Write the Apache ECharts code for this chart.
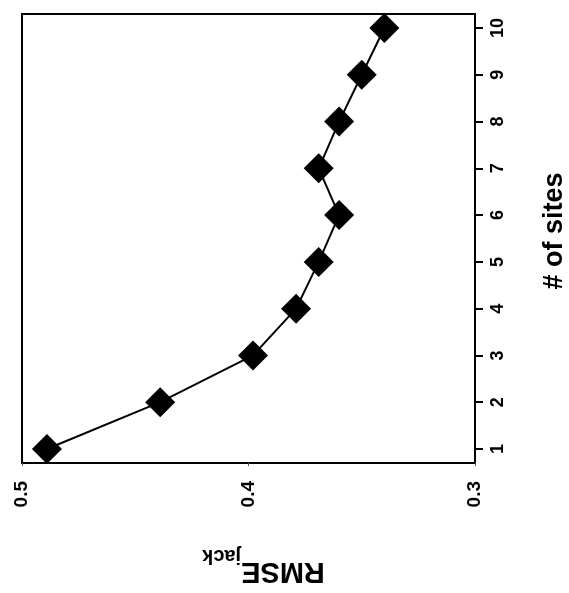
<!DOCTYPE html>
<html>
<head>
<meta charset="utf-8">
<script src="https://cdn.jsdelivr.net/npm/echarts@6/dist/echarts.min.js"></script>
<style>
  html, body { margin: 0; padding: 0; background: #fff; }
  #main { width: 569px; height: 593px; }
</style>
</head>
<body>
<div id="main"></div>
<script>
// # of sites vs. RMSE_jack (plot drawn rotated: sites on the right, RMSE at the bottom)
var sites = [1, 2, 3, 4, 5, 6, 7, 8, 9, 10];
var rmseJack = [0.489, 0.439, 0.398, 0.379, 0.369, 0.360, 0.369, 0.360, 0.350, 0.340];
var rmseTicks = [0.3, 0.4, 0.5];

var myChart = echarts.init(document.getElementById('main'));
var font = 'Liberation Sans, Arial, sans-serif';

var option = {
  animation: false,
  grid: {
    left: 22,
    right: 94,
    top: 14,
    bottom: 130,
    outerBoundsMode: 'none',
    show: true,
    borderColor: '#000',
    borderWidth: 2,
    backgroundColor: '#fff'
  },
  xAxis: {
    type: 'value',
    inverse: true,
    min: 0.3,
    max: 0.5,
    interval: 0.1,
    position: 'bottom',
    name: '{a|RMSE}{b|jack}',
    nameLocation: 'middle',
    nameRotate: 180,
    nameGap: 83,
    nameTextStyle: {
      padding: [0, 30, 0, 0],
      rich: {
        a: { fontFamily: font, fontSize: 29, fontWeight: 'bold', color: '#000', lineHeight: 34 },
        b: { fontFamily: font, fontSize: 20, fontWeight: 'bold', color: '#000', verticalAlign: 'bottom', padding: [30, 0, 0, 0] }
      }
    },
    axisLine: { show: false },
    axisTick: { show: true, length: 3, lineStyle: { color: '#555', width: 1 } },
    axisLabel: {
      rotate: 90,
      margin: 18,
      fontFamily: font,
      fontSize: 19,
      fontWeight: 'bold',
      color: '#000',
      formatter: function (v) {
        for (var i = 0; i < rmseTicks.length; i++) {
          if (Math.abs(v - rmseTicks[i]) < 1e-9) return rmseTicks[i].toFixed(1);
        }
        return '';
      }
    },
    splitLine: { show: false }
  },
  yAxis: {
    type: 'value',
    min: 0.7,
    max: 10.3,
    position: 'right',
    name: '# of sites',
    nameLocation: 'middle',
    nameRotate: 90,
    nameGap: 66,
    nameTextStyle: { fontFamily: font, fontSize: 27, fontWeight: 'bold', color: '#000', padding: [0, 0, 0, 15] },
    axisLine: { show: false },
    axisTick: {
      show: true,
      length: 8,
      lineStyle: { color: '#000', width: 2 },
      customValues: sites
    },
    axisLabel: {
      rotate: 90,
      margin: 14,
      fontFamily: font,
      fontSize: 18,
      fontWeight: 'bold',
      color: '#000',
      customValues: sites
    },
    splitLine: { show: false }
  },
  series: [
    {
      type: 'line',
      data: sites.map(function (s, i) { return [rmseJack[i], s]; }),
      symbol: 'diamond',
      symbolSize: 30,
      itemStyle: { color: '#000' },
      lineStyle: { color: '#000', width: 2 }
    }
  ]
};
myChart.setOption(option);
</script>
</body>
</html>
